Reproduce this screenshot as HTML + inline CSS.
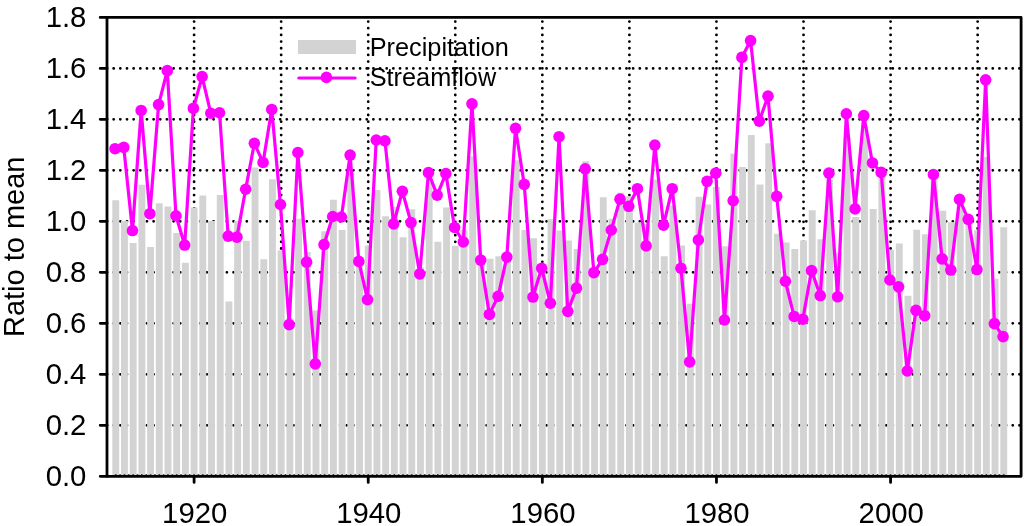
<!DOCTYPE html>
<html><head><meta charset="utf-8"><title>Ratio to mean</title>
<style>html,body{margin:0;padding:0;background:#fff;}body{width:1024px;height:526px;overflow:hidden;}svg{display:block;}</style>
</head><body>
<svg width="1024" height="526" viewBox="0 0 1024 526">
<path d="M107.00 425.31H1021.10 M107.00 374.32H1021.10 M107.00 323.33H1021.10 M107.00 272.34H1021.10 M107.00 221.35H1021.10 M107.00 170.36H1021.10 M107.00 119.37H1021.10 M107.00 68.38H1021.10" fill="none" stroke="#000" stroke-width="2.8" stroke-linecap="round" stroke-dasharray="0 6.66" stroke-dashoffset="0"/>
<path d="M194.10 21.55V476.30 M281.16 21.55V476.30 M368.22 21.55V476.30 M455.28 21.55V476.30 M542.34 21.55V476.30 M629.40 21.55V476.30 M716.46 21.55V476.30 M803.52 21.55V476.30 M890.58 21.55V476.30 M977.64 21.55V476.30" fill="none" stroke="#000" stroke-width="2.8" stroke-linecap="round" stroke-dasharray="0 6.675"/>
<path d="M112.30 200.19h6.9V476.30h-6.9Z M121.00 221.10h6.9V476.30h-6.9Z M129.71 243.02h6.9V476.30h-6.9Z M138.41 184.64h6.9V476.30h-6.9Z M147.12 247.10h6.9V476.30h-6.9Z M155.83 203.25h6.9V476.30h-6.9Z M164.53 206.56h6.9V476.30h-6.9Z M173.24 233.08h6.9V476.30h-6.9Z M181.94 262.65h6.9V476.30h-6.9Z M190.65 207.58h6.9V476.30h-6.9Z M199.36 195.60h6.9V476.30h-6.9Z M208.06 221.10h6.9V476.30h-6.9Z M216.77 195.09h6.9V476.30h-6.9Z M225.47 301.40h6.9V476.30h-6.9Z M234.18 221.10h6.9V476.30h-6.9Z M242.89 240.73h6.9V476.30h-6.9Z M251.59 167.56h6.9V476.30h-6.9Z M260.30 259.34h6.9V476.30h-6.9Z M269.00 179.28h6.9V476.30h-6.9Z M277.71 250.16h6.9V476.30h-6.9Z M286.42 318.23h6.9V476.30h-6.9Z M295.12 218.80h6.9V476.30h-6.9Z M303.83 251.94h6.9V476.30h-6.9Z M312.53 310.58h6.9V476.30h-6.9Z M321.24 231.29h6.9V476.30h-6.9Z M329.95 199.68h6.9V476.30h-6.9Z M338.65 230.02h6.9V476.30h-6.9Z M347.36 172.91h6.9V476.30h-6.9Z M356.06 262.14h6.9V476.30h-6.9Z M364.77 245.57h6.9V476.30h-6.9Z M373.48 189.99h6.9V476.30h-6.9Z M382.18 216.25h6.9V476.30h-6.9Z M390.89 207.07h6.9V476.30h-6.9Z M399.59 237.16h6.9V476.30h-6.9Z M408.30 209.37h6.9V476.30h-6.9Z M417.01 267.24h6.9V476.30h-6.9Z M425.71 182.34h6.9V476.30h-6.9Z M434.42 241.75h6.9V476.30h-6.9Z M443.12 207.58h6.9V476.30h-6.9Z M451.83 245.83h6.9V476.30h-6.9Z M460.54 230.02h6.9V476.30h-6.9Z M469.24 156.34h6.9V476.30h-6.9Z M477.95 257.04h6.9V476.30h-6.9Z M486.65 258.83h6.9V476.30h-6.9Z M495.36 256.28h6.9V476.30h-6.9Z M504.07 257.04h6.9V476.30h-6.9Z M512.77 160.16h6.9V476.30h-6.9Z M521.48 230.02h6.9V476.30h-6.9Z M530.18 238.18h6.9V476.30h-6.9Z M538.89 267.24h6.9V476.30h-6.9Z M547.60 219.31h6.9V476.30h-6.9Z M556.30 230.53h6.9V476.30h-6.9Z M565.01 240.47h6.9V476.30h-6.9Z M573.71 248.88h6.9V476.30h-6.9Z M582.42 161.18h6.9V476.30h-6.9Z M591.13 269.79h6.9V476.30h-6.9Z M599.83 197.13h6.9V476.30h-6.9Z M608.54 218.80h6.9V476.30h-6.9Z M617.24 192.80h6.9V476.30h-6.9Z M625.95 196.36h6.9V476.30h-6.9Z M634.66 222.62h6.9V476.30h-6.9Z M643.36 223.90h6.9V476.30h-6.9Z M652.07 179.54h6.9V476.30h-6.9Z M660.77 256.28h6.9V476.30h-6.9Z M669.48 205.29h6.9V476.30h-6.9Z M678.19 245.57h6.9V476.30h-6.9Z M686.89 303.70h6.9V476.30h-6.9Z M695.60 196.87h6.9V476.30h-6.9Z M704.30 204.52h6.9V476.30h-6.9Z M713.01 186.93h6.9V476.30h-6.9Z M721.72 246.34h6.9V476.30h-6.9Z M730.42 153.79h6.9V476.30h-6.9Z M739.13 167.05h6.9V476.30h-6.9Z M747.83 134.92h6.9V476.30h-6.9Z M756.54 184.38h6.9V476.30h-6.9Z M765.25 143.34h6.9V476.30h-6.9Z M773.95 233.84h6.9V476.30h-6.9Z M782.66 242.51h6.9V476.30h-6.9Z M791.36 248.88h6.9V476.30h-6.9Z M800.07 240.47h6.9V476.30h-6.9Z M808.78 210.13h6.9V476.30h-6.9Z M817.48 239.20h6.9V476.30h-6.9Z M826.19 180.05h6.9V476.30h-6.9Z M834.89 252.45h6.9V476.30h-6.9Z M843.60 137.22h6.9V476.30h-6.9Z M852.31 217.02h6.9V476.30h-6.9Z M861.01 127.02h6.9V476.30h-6.9Z M869.72 209.11h6.9V476.30h-6.9Z M878.42 174.95h6.9V476.30h-6.9Z M887.13 249.65h6.9V476.30h-6.9Z M895.84 243.53h6.9V476.30h-6.9Z M904.54 295.80h6.9V476.30h-6.9Z M913.25 229.76h6.9V476.30h-6.9Z M921.95 234.35h6.9V476.30h-6.9Z M930.66 178.01h6.9V476.30h-6.9Z M939.37 210.64h6.9V476.30h-6.9Z M948.07 222.37h6.9V476.30h-6.9Z M956.78 203.50h6.9V476.30h-6.9Z M965.48 223.90h6.9V476.30h-6.9Z M974.19 230.27h6.9V476.30h-6.9Z M982.90 157.10h6.9V476.30h-6.9Z M991.60 278.71h6.9V476.30h-6.9Z M1000.31 227.21h6.9V476.30h-6.9Z" fill="#d3d3d3"/>
<polyline points="115.05,148.69 123.75,147.41 132.46,230.53 141.16,110.45 149.87,213.70 158.58,104.58 167.28,70.67 175.99,215.74 184.69,245.06 193.40,108.41 202.11,76.54 210.81,113.25 219.52,112.74 228.22,236.14 236.93,237.16 245.64,189.23 254.34,143.34 263.05,162.46 271.75,109.43 280.46,204.52 289.17,324.60 297.87,152.51 306.58,262.14 315.28,363.87 323.99,244.55 332.70,216.51 341.40,217.02 350.11,155.06 358.81,261.38 367.52,299.62 376.23,140.02 384.93,140.79 393.64,223.90 402.34,191.27 411.05,222.62 419.76,273.87 428.46,172.65 437.17,195.09 445.87,173.67 454.58,227.47 463.29,242.00 471.99,103.82 480.70,260.10 489.40,314.41 498.11,296.31 506.82,257.04 515.52,128.29 524.23,184.38 532.93,297.07 541.64,268.26 550.35,303.19 559.05,136.71 567.76,311.35 576.46,288.15 585.17,168.83 593.88,272.59 602.58,259.34 611.29,230.02 619.99,199.17 628.70,206.31 637.41,188.72 646.11,245.83 654.82,145.12 663.52,225.17 672.23,188.72 680.94,268.26 689.64,361.83 698.35,239.96 707.05,181.32 715.76,173.16 724.47,320.02 733.17,200.70 741.88,57.42 750.58,40.59 759.29,121.15 768.00,96.17 776.70,196.36 785.41,281.26 794.11,316.45 802.82,319.25 811.53,270.56 820.23,295.54 828.94,173.16 837.64,296.82 846.35,113.76 855.06,208.86 863.76,115.55 872.47,162.97 881.17,172.40 889.88,279.99 898.59,286.87 907.29,371.01 916.00,310.33 924.70,315.68 933.41,174.44 942.12,258.83 950.82,270.05 959.53,199.42 968.23,219.31 976.94,269.54 985.65,79.85 994.35,323.58 1003.06,336.59" fill="none" stroke="#ff00ff" stroke-width="3.2" stroke-linejoin="round"/>
<g fill="#ff00ff"><circle cx="115.05" cy="148.69" r="5.8"/><circle cx="123.75" cy="147.41" r="5.8"/><circle cx="132.46" cy="230.53" r="5.8"/><circle cx="141.16" cy="110.45" r="5.8"/><circle cx="149.87" cy="213.70" r="5.8"/><circle cx="158.58" cy="104.58" r="5.8"/><circle cx="167.28" cy="70.67" r="5.8"/><circle cx="175.99" cy="215.74" r="5.8"/><circle cx="184.69" cy="245.06" r="5.8"/><circle cx="193.40" cy="108.41" r="5.8"/><circle cx="202.11" cy="76.54" r="5.8"/><circle cx="210.81" cy="113.25" r="5.8"/><circle cx="219.52" cy="112.74" r="5.8"/><circle cx="228.22" cy="236.14" r="5.8"/><circle cx="236.93" cy="237.16" r="5.8"/><circle cx="245.64" cy="189.23" r="5.8"/><circle cx="254.34" cy="143.34" r="5.8"/><circle cx="263.05" cy="162.46" r="5.8"/><circle cx="271.75" cy="109.43" r="5.8"/><circle cx="280.46" cy="204.52" r="5.8"/><circle cx="289.17" cy="324.60" r="5.8"/><circle cx="297.87" cy="152.51" r="5.8"/><circle cx="306.58" cy="262.14" r="5.8"/><circle cx="315.28" cy="363.87" r="5.8"/><circle cx="323.99" cy="244.55" r="5.8"/><circle cx="332.70" cy="216.51" r="5.8"/><circle cx="341.40" cy="217.02" r="5.8"/><circle cx="350.11" cy="155.06" r="5.8"/><circle cx="358.81" cy="261.38" r="5.8"/><circle cx="367.52" cy="299.62" r="5.8"/><circle cx="376.23" cy="140.02" r="5.8"/><circle cx="384.93" cy="140.79" r="5.8"/><circle cx="393.64" cy="223.90" r="5.8"/><circle cx="402.34" cy="191.27" r="5.8"/><circle cx="411.05" cy="222.62" r="5.8"/><circle cx="419.76" cy="273.87" r="5.8"/><circle cx="428.46" cy="172.65" r="5.8"/><circle cx="437.17" cy="195.09" r="5.8"/><circle cx="445.87" cy="173.67" r="5.8"/><circle cx="454.58" cy="227.47" r="5.8"/><circle cx="463.29" cy="242.00" r="5.8"/><circle cx="471.99" cy="103.82" r="5.8"/><circle cx="480.70" cy="260.10" r="5.8"/><circle cx="489.40" cy="314.41" r="5.8"/><circle cx="498.11" cy="296.31" r="5.8"/><circle cx="506.82" cy="257.04" r="5.8"/><circle cx="515.52" cy="128.29" r="5.8"/><circle cx="524.23" cy="184.38" r="5.8"/><circle cx="532.93" cy="297.07" r="5.8"/><circle cx="541.64" cy="268.26" r="5.8"/><circle cx="550.35" cy="303.19" r="5.8"/><circle cx="559.05" cy="136.71" r="5.8"/><circle cx="567.76" cy="311.35" r="5.8"/><circle cx="576.46" cy="288.15" r="5.8"/><circle cx="585.17" cy="168.83" r="5.8"/><circle cx="593.88" cy="272.59" r="5.8"/><circle cx="602.58" cy="259.34" r="5.8"/><circle cx="611.29" cy="230.02" r="5.8"/><circle cx="619.99" cy="199.17" r="5.8"/><circle cx="628.70" cy="206.31" r="5.8"/><circle cx="637.41" cy="188.72" r="5.8"/><circle cx="646.11" cy="245.83" r="5.8"/><circle cx="654.82" cy="145.12" r="5.8"/><circle cx="663.52" cy="225.17" r="5.8"/><circle cx="672.23" cy="188.72" r="5.8"/><circle cx="680.94" cy="268.26" r="5.8"/><circle cx="689.64" cy="361.83" r="5.8"/><circle cx="698.35" cy="239.96" r="5.8"/><circle cx="707.05" cy="181.32" r="5.8"/><circle cx="715.76" cy="173.16" r="5.8"/><circle cx="724.47" cy="320.02" r="5.8"/><circle cx="733.17" cy="200.70" r="5.8"/><circle cx="741.88" cy="57.42" r="5.8"/><circle cx="750.58" cy="40.59" r="5.8"/><circle cx="759.29" cy="121.15" r="5.8"/><circle cx="768.00" cy="96.17" r="5.8"/><circle cx="776.70" cy="196.36" r="5.8"/><circle cx="785.41" cy="281.26" r="5.8"/><circle cx="794.11" cy="316.45" r="5.8"/><circle cx="802.82" cy="319.25" r="5.8"/><circle cx="811.53" cy="270.56" r="5.8"/><circle cx="820.23" cy="295.54" r="5.8"/><circle cx="828.94" cy="173.16" r="5.8"/><circle cx="837.64" cy="296.82" r="5.8"/><circle cx="846.35" cy="113.76" r="5.8"/><circle cx="855.06" cy="208.86" r="5.8"/><circle cx="863.76" cy="115.55" r="5.8"/><circle cx="872.47" cy="162.97" r="5.8"/><circle cx="881.17" cy="172.40" r="5.8"/><circle cx="889.88" cy="279.99" r="5.8"/><circle cx="898.59" cy="286.87" r="5.8"/><circle cx="907.29" cy="371.01" r="5.8"/><circle cx="916.00" cy="310.33" r="5.8"/><circle cx="924.70" cy="315.68" r="5.8"/><circle cx="933.41" cy="174.44" r="5.8"/><circle cx="942.12" cy="258.83" r="5.8"/><circle cx="950.82" cy="270.05" r="5.8"/><circle cx="959.53" cy="199.42" r="5.8"/><circle cx="968.23" cy="219.31" r="5.8"/><circle cx="976.94" cy="269.54" r="5.8"/><circle cx="985.65" cy="79.85" r="5.8"/><circle cx="994.35" cy="323.58" r="5.8"/><circle cx="1003.06" cy="336.59" r="5.8"/></g>
<path d="M115.746 475.4H1007.16" stroke="#000" stroke-width="2.2" stroke-linecap="round" stroke-dasharray="0 4.353"/>
<rect x="107.0" y="17.4" width="914.10" height="458.90" fill="none" stroke="#000" stroke-width="2.8" stroke-linejoin="round"/>
<path d="M100.2 476.30H107.0 M100.2 425.31H107.0 M100.2 374.32H107.0 M100.2 323.33H107.0 M100.2 272.34H107.0 M100.2 221.35H107.0 M100.2 170.36H107.0 M100.2 119.37H107.0 M100.2 68.38H107.0 M100.2 17.39H107.0 M194.10 476.3V482.4 M368.22 476.3V482.4 M542.34 476.3V482.4 M716.46 476.3V482.4 M890.58 476.3V482.4" stroke="#000" stroke-width="2.8" stroke-linecap="round"/>
<g font-family='"Liberation Sans", Arial, Helvetica, sans-serif' font-size="29.3" fill="#000"><text transform="translate(86.4 486.05) scale(1 1.03)" text-anchor="end">0.0</text><text transform="translate(86.4 435.06) scale(1 1.03)" text-anchor="end">0.2</text><text transform="translate(86.4 384.07) scale(1 1.03)" text-anchor="end">0.4</text><text transform="translate(86.4 333.08) scale(1 1.03)" text-anchor="end">0.6</text><text transform="translate(86.4 282.09) scale(1 1.03)" text-anchor="end">0.8</text><text transform="translate(86.4 231.10) scale(1 1.03)" text-anchor="end">1.0</text><text transform="translate(86.4 180.11) scale(1 1.03)" text-anchor="end">1.2</text><text transform="translate(86.4 129.12) scale(1 1.03)" text-anchor="end">1.4</text><text transform="translate(86.4 78.13) scale(1 1.03)" text-anchor="end">1.6</text><text transform="translate(86.4 27.14) scale(1 1.03)" text-anchor="end">1.8</text><text transform="translate(194.70 523.1) scale(1 1.03)" text-anchor="middle">1920</text><text transform="translate(368.82 523.1) scale(1 1.03)" text-anchor="middle">1940</text><text transform="translate(542.94 523.1) scale(1 1.03)" text-anchor="middle">1960</text><text transform="translate(717.06 523.1) scale(1 1.03)" text-anchor="middle">1980</text><text transform="translate(891.18 523.1) scale(1 1.03)" text-anchor="middle">2000</text></g>
<text transform="translate(23.8 246.8) rotate(-90) scale(1 1.035)" text-anchor="middle" font-family='"Liberation Sans", Arial, Helvetica, sans-serif' font-size="29" fill="#000">Ratio to mean</text>
<rect x="298" y="40" width="58" height="14" fill="#d3d3d3"/>
<path d="M298.8 78H355.1" stroke="#ff00ff" stroke-width="3.2" stroke-linecap="round"/>
<circle cx="326.4" cy="77.4" r="5.8" fill="#ff00ff"/>
<g font-family='"Liberation Sans", Arial, Helvetica, sans-serif' font-size="25.3" fill="#000"><text x="369.7" y="55.8">Precipitation</text><text x="369.7" y="86.1">Streamflow</text></g>
</svg>
</body></html>
